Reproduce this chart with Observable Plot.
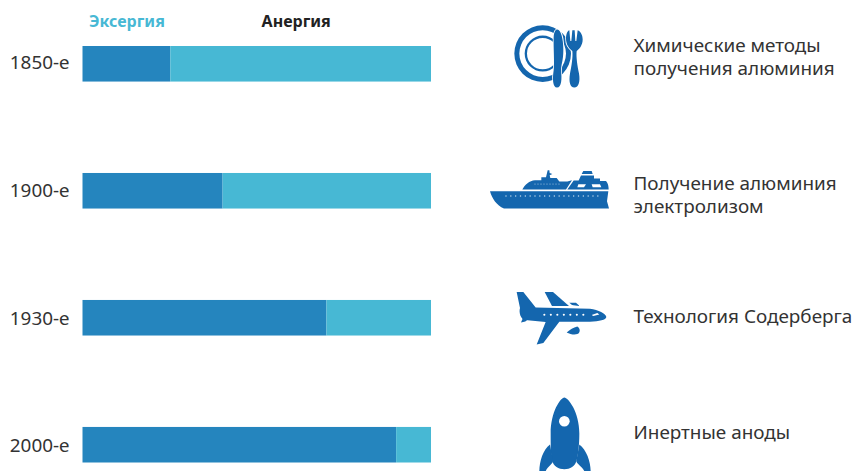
<!DOCTYPE html>
<html lang="ru">
<head>
<meta charset="utf-8">
<title>Эксергия и анергия</title>
<style>
  html, body { margin: 0; padding: 0; background: #fff; }
  svg { display: block; }
</style>
<script src="https://cdn.jsdelivr.net/npm/d3@7"></script>
<script src="https://cdn.jsdelivr.net/npm/@observablehq/plot@0.6"></script>
</head>
<body>
<div id="chart"></div>
<script>
// Exergy and anergy shares (per cent) by period
const decades = ["1850-е", "1900-е", "1930-е", "2000-е"];
const exergy = [25.2, 40.2, 70, 90];
const anergy = [74.8, 59.8, 30, 10];
const seriesNames = ["Эксергия", "Анергия"];
const methods = [
  "Химические методы\nполучения алюминия",
  "Получение алюминия\nэлектролизом",
  "Технология Содерберга",
  "Инертные аноды"
];

const FONT = "'Noto Sans', sans-serif";
const DARK = "#2585be";
const LIGHT = "#47b8d4";
const ICON = "#1466ae";

// Long table for the stacked bars
const rows = decades.flatMap((decade, i) => [
  {decade, series: seriesNames[0], value: exergy[i]},
  {decade, series: seriesNames[1], value: anergy[i]}
]);

// Icon artwork, drawn in third-of-a-pixel units around each row's band
const ring = (cx, cy, r) => `M${cx - r},${cy}A${r},${r} 0 1 1 ${cx + r},${cy}A${r},${r} 0 1 1 ${cx - r},${cy}Z`;
const dots = (xs, y, r) => xs.map(x => ring(x, y, r)).join("");

const plate = {
  origin: 160.5,
  layers: [
    {d: ring(188, 130, 85) + ring(188, 130, 70) + ring(188, 130, 54) + ring(188, 130, 47), fillRule: "evenodd"},
    {d: "M232,58C243,60 250,85 250,120C250,150 243,165 243,180C246,205 245,232 231,232C218,232 217,205 221,180C224,160 220,110 221,80C222,66 226,58 232,58Z", halo: true},
    {d: "M258,85C258,72 262,62 268,60L271,92H274L277,60H284L286,92H289L293,60C302,64 308,74 308,88C308,106 297,118 290,122C288,140 292,165 297,190C301,215 296,232 283,232C270,232 266,215 270,190C275,165 279,140 277,122C268,116 258,104 258,85Z", halo: true}
  ]
};

const ship = {
  origin: 541.5,
  layers: [
    {d: "M30,543H385L381,573L387,595H72C50,585 36,565 30,543Z"},
    {d: "M127,538C135,522 148,512 165,510H184V501H198L203,480H208L209,488L217,491L209,495L211,503H230L238,514H262L276,510L258,538Z"},
    {d: "M262,538L281,511H296L303,496H342V505H360V512H378C384,518 386,528 386,538Z"},
    {d: "M310,482H335L338,491H305Z"},
    {d: "M295,522H318L312,531H292ZM335,522H360L364,531H338Z", fill: "#fff"},
    {d: dots(d3.range(78, 368, 14.5), 557, 2.2) + dots(d3.range(165, 245, 9), 521, 1.6), fill: "#bcd6ea"}
  ]
};

const plane = {
  origin: 141,
  layers: [
    {d: "M110,64H130L167,110L330,114C355,118 378,128 379,139C378,148 358,152 330,153H238L190,217L170,221L197,154L135,148C122,146 116,125 120,112Z"},
    {d: "M194,64H219L267,106H216Z"},
    {d: "M268,96H288L299,106L276,103Z"},
    {d: "M123,155L130,139L146,144L136,152Z"},
    {d: "M260,185C270,176 280,170 292,167C301,172 302,185 292,190C282,193 270,190 260,185Z"},
    {d: dots(d3.range(193, 320, 19.5), 132, 3.2) + "M335,133L352,127L358,131L340,136Z", fill: "#fff"}
  ]
};

const rocket = {
  origin: 523.5,
  layers: [
    {d: "M253,382C264,382 298,425 298,490C298,525 294,555 290,570C286,588 270,597 253,597C236,597 220,588 216,570C212,555 212,525 212,490C212,425 242,382 253,382Z"},
    {d: "M210,523L219,572C220,580 202,590 196,605H178C178,575 188,540 210,523Z"},
    {d: "M298,523L289,572C288,580 308,590 314,605H332C332,575 320,540 298,523Z"},
    {d: ring(253, 453, 16), fill: "#fff"}
  ]
};

const icons = [plate, ship, plane, rocket];

// Custom mark: places one icon per row at the band centre of the y scale
function iconMark(index, scales) {
  const band = scales.y.bandwidth;
  const bandwidth = typeof band === "function" ? band() : band;
  const g = d3.create("svg:g");
  decades.forEach((decade, i) => {
    const yc = scales.y(decade) + bandwidth / 2;
    const item = g.append("g")
      .attr("transform", `translate(480,${yc}) scale(${1 / 3}) translate(0,${-icons[i].origin})`);
    for (const layer of icons[i].layers) {
      const p = item.append("path")
        .attr("d", layer.d)
        .attr("fill", layer.fill || ICON)
        .attr("fill-rule", layer.fillRule || "nonzero");
      if (layer.halo) p.attr("stroke", "#fff").attr("stroke-width", 5).attr("paint-order", "stroke");
    }
  });
  return g.node();
}

// Per-row vertical nudges for the period labels and the captions on the right
const tickShift = [-1.5, 0, 1, 1];
const captionShift = [-8, 3, -3, -14];

const tickMarks = decades.map((decade, i) =>
  Plot.text([decade], {
    y: d => d,
    text: d => d,
    frameAnchor: "left",
    textAnchor: "end",
    dx: -13.5,
    dy: tickShift[i],
    fontSize: 18.9,
    fontFamily: FONT,
    fill: "#333"
  })
);

const captionMarks = methods.map((text, i) =>
  Plot.text([{decade: decades[i], text}], {
    y: "decade",
    text: "text",
    frameAnchor: "left",
    textAnchor: "start",
    dx: 550.5,
    dy: captionShift[i],
    lineHeight: 1.22,
    fontSize: 18.9,
    fontFamily: FONT,
    fill: "#333"
  })
);

const chart = Plot.plot({
  width: 857,
  height: 471,
  marginLeft: 82.5,
  marginRight: 426,
  marginTop: 46,
  marginBottom: 8.5,
  style: {background: "#fff", fontFamily: FONT},
  x: {domain: [0, 100], axis: null},
  y: {domain: decades, round: false, paddingInner: 0.72, paddingOuter: 0, align: 0.5, axis: null},
  color: {domain: seriesNames, range: [DARK, LIGHT]},
  marks: [
    Plot.barX(rows, {x: "value", y: "decade", fill: "series", order: seriesNames}),
    ...tickMarks,
    // Series labels sit above the first bar's two segments
    Plot.text([seriesNames[0]], {
      x: () => exergy[0] / 2,
      y: () => decades[0],
      text: d => d,
      dy: -42,
      fontWeight: "bold",
      fontSize: 16,
      fontFamily: FONT,
      fill: LIGHT
    }),
    Plot.text([seriesNames[1]], {
      x: () => exergy[0] + anergy[0] / 2,
      y: () => decades[0],
      text: d => d,
      dx: -5,
      dy: -42,
      fontWeight: "bold",
      fontSize: 16,
      fontFamily: FONT,
      fill: "#222"
    }),
    ...captionMarks,
    iconMark
  ]
});

document.getElementById("chart").appendChild(chart);
</script>
</body>
</html>
